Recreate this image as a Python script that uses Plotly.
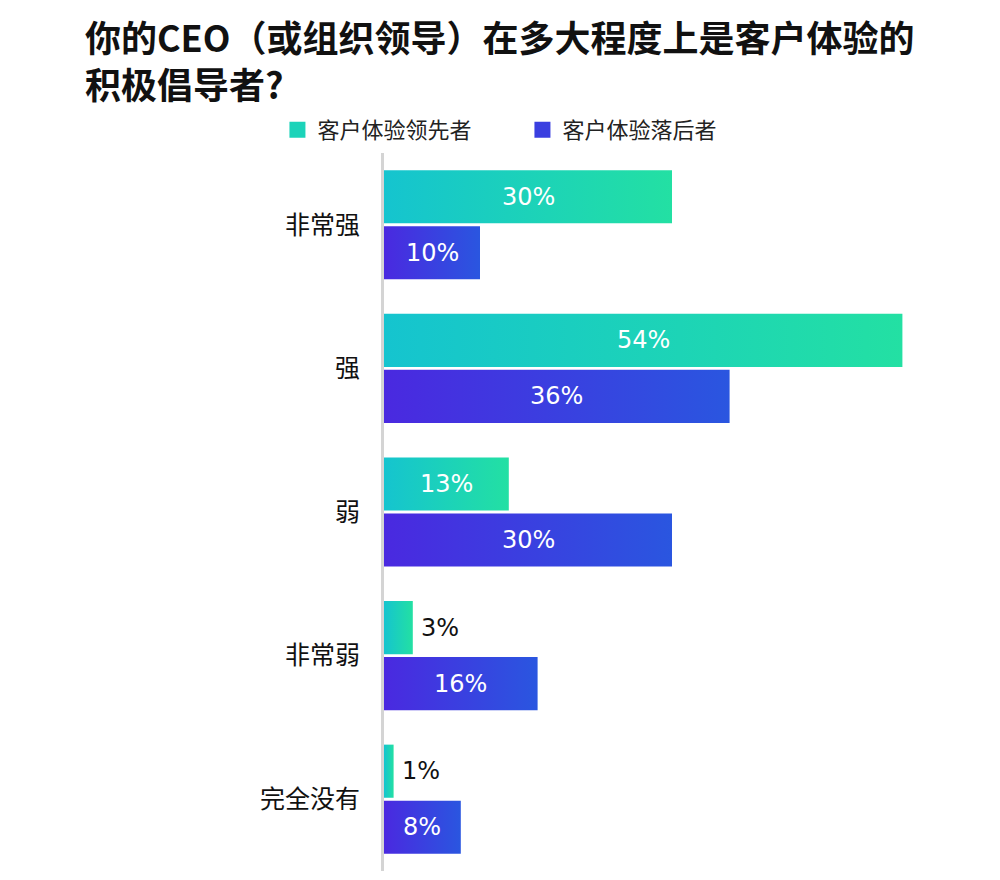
import plotly.graph_objects as go

categories = ["非常强", "强", "弱", "非常弱", "完全没有"]
leaders = [30, 54, 13, 3, 1]
laggards = [10, 36, 30, 16, 8]
series_names = ["客户体验领先者", "客户体验落后者"]

title_text = "你的CEO（或组织领导）在多大程度上是客户体验的<br>积极倡导者?"

LEAD_SCALE = [[0, "#15c4cf"], [1, "#23e0a3"]]
LAG_SCALE = [[0, "#4a29e0"], [1, "#2a56e0"]]
LEAD_SOLID = "#1cd3b9"
LAG_SOLID = "#3a3fe0"

BAR_H = 0.37
GAP = 0.02
OFF = (BAR_H + GAP) / 2
INSIDE_MIN = 5  # values below this get their label outside the bar

fig = go.Figure()


def add_bar(i, value, offset, scale, name):
    yc = i + offset
    y0, y1 = yc - BAR_H / 2, yc + BAR_H / 2
    fig.add_trace(go.Scatter(
        x=[0, value, value, 0, 0],
        y=[y0, y0, y1, y1, y0],
        mode="lines",
        line=dict(width=0),
        fill="toself",
        fillgradient=dict(type="horizontal", colorscale=scale, start=0, stop=value),
        showlegend=False,
        hoverinfo="text",
        hoveron="fills",
        text=f"{name}: {value}%",
        name=name,
    ))
    if value >= INSIDE_MIN:
        fig.add_annotation(x=value / 2, y=yc, text=f"{value}%", showarrow=False,
                           xanchor="center", yanchor="middle",
                           font=dict(family="DejaVu Sans", size=24, color="white"))
    else:
        fig.add_annotation(x=value, y=yc, text=f"{value}%", showarrow=False,
                           xanchor="left", yanchor="middle", xshift=6,
                           font=dict(family="DejaVu Sans", size=24, color="#111111"))


for i, (a, b) in enumerate(zip(leaders, laggards)):
    add_bar(i, a, -OFF, LEAD_SCALE, series_names[0])
    add_bar(i, b, OFF, LAG_SCALE, series_names[1])

# legend entries
for name, col in zip(series_names, [LEAD_SOLID, LAG_SOLID]):
    fig.add_trace(go.Scatter(
        x=[None], y=[None], mode="markers", name=name,
        marker=dict(symbol="square", size=20, color=col),
        showlegend=True,
    ))

fig.update_layout(
    width=1000, height=880,
    margin=dict(l=384, r=40, t=153, b=9),
    paper_bgcolor="white", plot_bgcolor="white",
    title=dict(
        text=title_text,
        xref="container", yref="container",
        x=0.085, xanchor="left",
        y=1 - 52 / 880, yanchor="top",
        font=dict(family="Noto Sans CJK SC", size=36, color="#111111", weight="bold"),
    ),
    legend=dict(
        orientation="h",
        x=-0.185, xanchor="left",
        y=1.032, yanchor="middle",
        font=dict(family="Noto Sans CJK SC", size=22, color="#222222"),
        entrywidth=200,
        traceorder="normal",
        bgcolor="rgba(0,0,0,0)",
    ),
    xaxis=dict(range=[0, 60], visible=False, fixedrange=True),
    yaxis=dict(
        range=[len(categories) - 0.5, -0.5],
        tickmode="array",
        tickvals=list(range(len(categories))),
        ticktext=categories,
        showgrid=False, zeroline=False,
        showline=True, linecolor="#d4d4d4", linewidth=3,
        ticks="", ticklabelstandoff=16,
        tickfont=dict(family="Noto Sans CJK SC", size=25, color="#111111"),
        fixedrange=True,
    ),
    showlegend=True,
)

fig.write_html("out.html")
